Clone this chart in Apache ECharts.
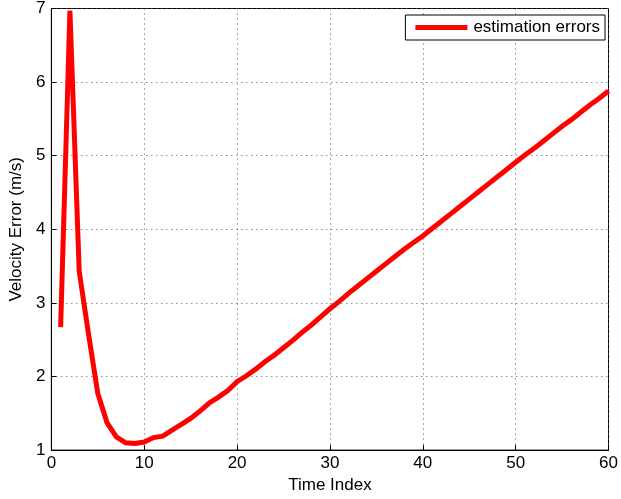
<!DOCTYPE html>
<html>
<head>
<meta charset="utf-8">
<script src="https://cdn.jsdelivr.net/npm/echarts@6/dist/echarts.min.js"></script>
<style>html,body{margin:0;background:#fff}#c{width:621px;height:499px}</style>
</head>
<body>
<div id="c"></div>
<script>
// time index 1..60 and the estimated velocity error
const timeIndex = [];
for (let i = 1; i <= 60; i++) timeIndex.push(i);
const velocityError = [
  2.67, 6.97, 3.43, 2.58, 1.77, 1.37, 1.18, 1.10, 1.09, 1.11,
  1.17, 1.19, 1.27, 1.35, 1.43, 1.53, 1.64, 1.72, 1.81, 1.93,
  2.01, 2.10, 2.20, 2.29, 2.39, 2.49, 2.60, 2.70, 2.81, 2.92,
  3.02, 3.13, 3.23, 3.33, 3.43, 3.53, 3.63, 3.73, 3.82, 3.91,
  4.01, 4.11, 4.21, 4.31, 4.41, 4.51, 4.61, 4.71, 4.81, 4.91,
  5.01, 5.10, 5.20, 5.30, 5.40, 5.49, 5.59, 5.69, 5.78, 5.88
];
const seriesName = "estimation errors";

const font = "Liberation Sans, Arial, sans-serif";
const gridLine = { show: true, lineStyle: { color: "#555", type: [1, 4], width: 1 } };

const chart = echarts.init(document.getElementById("c"), null, { renderer: "canvas" });
chart.setOption({
  animation: false,
  backgroundColor: "#fff",
  grid: {
    left: 50, right: 8, top: 7, bottom: 48,
    show: true, borderColor: "#000", borderWidth: 1, backgroundColor: "transparent"
  },
  legend: {
    right: 16, top: 15,
    data: [{ name: seriesName, icon: "rect" }],
    backgroundColor: "#fff",
    borderColor: "#000", borderWidth: 1, borderRadius: 0,
    padding: [4, 5, 4, 10],
    itemWidth: 52, itemHeight: 5, itemGap: 4,
    textStyle: { fontFamily: font, fontSize: 17, color: "#000", padding: [0, 0, 0, 1] }
  },
  xAxis: {
    type: "value", min: 0, max: 60, interval: 10,
    name: "Time Index", nameLocation: "middle", nameGap: 26,
    nameTextStyle: { fontFamily: font, fontSize: 17, color: "#000" },
    axisLine: { show: true, lineStyle: { color: "#000" } },
    axisTick: { show: true, inside: true, length: 5, lineStyle: { color: "#000" } },
    axisLabel: { fontFamily: font, fontSize: 17, color: "#000", margin: 5 },
    splitLine: gridLine
  },
  yAxis: {
    type: "value", min: 1, max: 7, interval: 1,
    name: "Velocity Error (m/s)", nameLocation: "middle", nameGap: 25,
    nameTextStyle: { fontFamily: font, fontSize: 17, color: "#000" },
    axisLine: { show: true, lineStyle: { color: "#000" } },
    axisTick: { show: true, inside: true, length: 5, lineStyle: { color: "#000" } },
    axisLabel: { fontFamily: font, fontSize: 17, color: "#000", margin: 6 },
    splitLine: gridLine
  },
  series: [{
    name: seriesName,
    type: "line",
    data: timeIndex.map((t, i) => [t, velocityError[i]]),
    showSymbol: false,
    symbol: "none",
    lineStyle: { color: "#ff0000", width: 5, join: "miter" },
    itemStyle: { color: "#ff0000" }
  }]
});
</script>
</body>
</html>
